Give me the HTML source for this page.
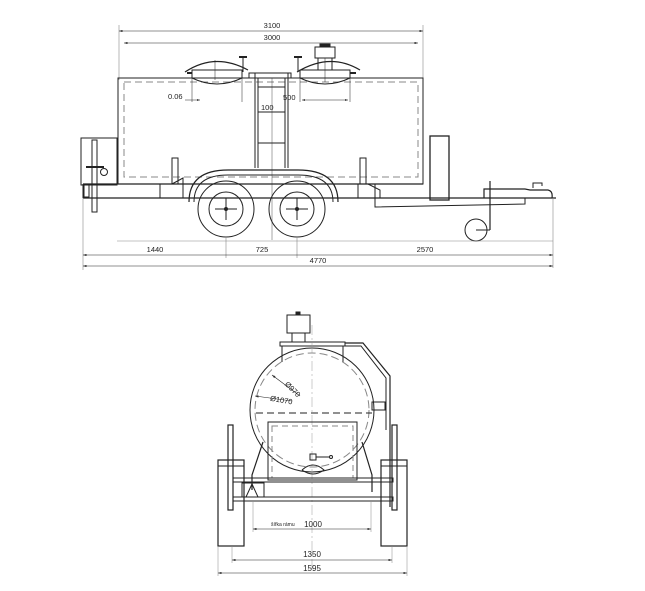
<!DOCTYPE html>
<html><head><meta charset="utf-8"><style>
html,body{margin:0;padding:0;background:#fff;}
svg{display:block;font-family:"Liberation Sans",sans-serif;}
</style></head><body>
<svg width="645" height="591" viewBox="0 0 645 591" xmlns="http://www.w3.org/2000/svg">
<defs>
<marker id="a" markerWidth="6" markerHeight="4" refX="6" refY="2" orient="auto-start-reverse"><path d="M0,0 L6,2 L0,4 z" fill="#333"/></marker>
</defs>
<g stroke="#222" fill="none" stroke-width="1">
<!-- top dims -->
<line x1="119" y1="25" x2="119" y2="80" stroke="#888" stroke-width="0.6"/>
<line x1="423" y1="25" x2="423" y2="80" stroke="#888" stroke-width="0.6"/>
<line x1="119" y1="31" x2="423" y2="31" stroke-width="0.6" marker-start="url(#a)" marker-end="url(#a)"/>
<line x1="124" y1="43" x2="418" y2="43" stroke-width="0.6" marker-start="url(#a)" marker-end="url(#a)"/>
<!-- tank -->
<rect x="118" y="78" width="305" height="106" stroke-width="1"/>
<path d="M124 82 H418 V177 H124 Z" stroke="#888" stroke-dasharray="7,4"/>
<!-- hatches -->
<path d="M185 72 Q215 52 248 70" stroke-width="1.2"/>
<rect x="192" y="70" width="50" height="8"/>
<path d="M192 78 Q217 90 242 78" />
<line x1="187" y1="73" x2="192" y2="73" stroke-width="2"/>
<line x1="243" y1="57" x2="243" y2="72"/><line x1="239" y1="57" x2="247" y2="57" stroke-width="2"/>
<line x1="215" y1="60" x2="215" y2="80" stroke-width="0.5"/>
<path d="M297 72 Q330 52 360 70" stroke-width="1.2"/>
<rect x="300" y="70" width="50" height="8"/>
<path d="M300 78 Q325 90 350 78"/>
<line x1="350" y1="73" x2="356" y2="73" stroke-width="2"/>
<line x1="298" y1="57" x2="298" y2="72"/><line x1="294" y1="57" x2="302" y2="57" stroke-width="2"/>
<rect x="315" y="47" width="20" height="11"/><rect x="320" y="44" width="10" height="3" fill="#222"/>
<rect x="318" y="58" width="14" height="12"/>
<line x1="325" y1="58" x2="325" y2="82" stroke-width="0.5"/>
<!-- internal dims -->
<line x1="192" y1="78" x2="192" y2="102" stroke-width="0.5"/><line x1="242" y1="78" x2="242" y2="102" stroke-width="0.5"/>
<line x1="300" y1="78" x2="300" y2="102" stroke-width="0.5"/><line x1="350" y1="78" x2="350" y2="102" stroke-width="0.5"/>
<line x1="185" y1="100" x2="200" y2="100" stroke-width="0.5" marker-end="url(#a)"/>
<line x1="302" y1="100" x2="348" y2="100" stroke-width="0.5" marker-start="url(#a)" marker-end="url(#a)"/>
<line x1="262" y1="112" x2="280" y2="112" stroke-width="0.5"/>
<!-- ladder -->
<rect x="249" y="73" width="42" height="5"/>
<line x1="255" y1="73" x2="255" y2="168"/><line x1="258" y1="78" x2="258" y2="168"/>
<line x1="285" y1="78" x2="285" y2="168"/><line x1="288" y1="73" x2="288" y2="168"/>
<line x1="258" y1="87" x2="285" y2="87"/><line x1="258" y1="112" x2="285" y2="112"/><line x1="258" y1="143" x2="285" y2="143"/>
<line x1="272" y1="78" x2="272" y2="240" stroke-width="0.4"/>
<!-- front box -->
<rect x="81" y="138" width="36" height="47"/>
<rect x="92" y="140" width="5" height="72"/>
<line x1="86" y1="167" x2="104" y2="167" stroke-width="2"/>
<circle cx="104" cy="172" r="3.5"/>
<rect x="84" y="185" width="5" height="12"/>
<!-- frame -->
<line x1="83" y1="184" x2="423" y2="184" stroke-width="1.3"/>
<line x1="83" y1="198" x2="556" y2="198" stroke-width="1.3"/>
<line x1="83" y1="184" x2="83" y2="198"/>
<path d="M160 198 V184 H178 M178 165 V184 M172 184 L183 178 V198" />
<path d="M172 184 V158 H178 V184" />
<path d="M358 198 V184 H372 M366 184 V158 H360 V184 M368 184 L380 190 V198"/>
<line x1="375" y1="184" x2="375" y2="198"/>
<path d="M375 198 V207 L525 204 V198"/>
<!-- fenders -->
<path d="M189 202 Q189 170 228 170 H298 Q338 170 338 202" stroke-width="1.2"/>
<path d="M194 202 Q194 175 228 175 H298 Q333 175 333 202"/>
<!-- wheels -->
<circle cx="226" cy="209" r="28"/><circle cx="226" cy="209" r="17"/>
<circle cx="297" cy="209" r="28"/><circle cx="297" cy="209" r="17"/>
<line x1="215" y1="209" x2="237" y2="209"/><line x1="226" y1="198" x2="226" y2="220"/>
<line x1="286" y1="209" x2="308" y2="209"/><line x1="297" y1="198" x2="297" y2="220"/>
<circle cx="226" cy="209" r="1.5" fill="#222"/><circle cx="297" cy="209" r="1.5" fill="#222"/>
<!-- mudguard -->
<rect x="430" y="136" width="19" height="64" stroke-width="1.3"/>
<!-- hitch -->
<path d="M484 198 V189 H525 L530 190 H548 Q553 191 552 198" stroke-width="1.2"/>
<path d="M533 188 V183 H542 V186"/>
<line x1="490" y1="181" x2="490" y2="230" stroke-width="1.2"/>
<circle cx="476" cy="230" r="11"/><line x1="476" y1="230" x2="490" y2="230"/>
<!-- bottom dims (top view) -->
<line x1="553" y1="198" x2="553" y2="268" stroke="#888" stroke-width="0.6"/>
<line x1="83" y1="198" x2="83" y2="270" stroke="#888" stroke-width="0.6"/>
<line x1="117" y1="241" x2="553" y2="241" stroke="#888" stroke-width="0.6"/>
<line x1="226" y1="238" x2="226" y2="258" stroke="#888" stroke-width="0.6"/>
<line x1="297" y1="238" x2="297" y2="258" stroke="#888" stroke-width="0.6"/>
<line x1="83" y1="255" x2="553" y2="255" stroke-width="0.6" marker-start="url(#a)" marker-end="url(#a)"/>
<line x1="83" y1="266" x2="553" y2="266" stroke-width="0.6" marker-start="url(#a)" marker-end="url(#a)"/>

<!-- ===== rear view ===== -->
<rect x="287" y="315" width="23" height="18"/><rect x="296" y="312" width="4" height="3" fill="#222"/>
<rect x="292" y="333" width="13" height="9"/>
<rect x="280" y="342" width="65" height="4"/>
<line x1="282" y1="346" x2="282" y2="362"/><line x1="343" y1="346" x2="343" y2="362"/>
<circle cx="312" cy="410" r="62"/>
<circle cx="312" cy="410" r="57" stroke="#888" stroke-dasharray="8,4"/>
<line x1="256" y1="413" x2="372" y2="413" stroke-dasharray="7,4"/>
<line x1="312" y1="325" x2="312" y2="570" stroke="#999" stroke-width="0.5" stroke-dasharray="10,3,2,3"/>
<line x1="272" y1="375" x2="300" y2="396" stroke-width="0.6" marker-start="url(#a)"/>
<line x1="255" y1="396" x2="292" y2="401" stroke-width="0.6" marker-start="url(#a)"/>
<!-- pipe -->
<path d="M345 343 H363 L390 376 V507" stroke-width="1.2"/>
<path d="M345 346 H361 L386 378 V430"/>
<rect x="372" y="402" width="13" height="8"/>
<!-- door -->
<rect x="268" y="422" width="89" height="58"/>
<rect x="272" y="426" width="81" height="52" stroke="#888" stroke-dasharray="6,4"/>
<rect x="310" y="454" width="6" height="6"/><line x1="316" y1="457" x2="330" y2="457"/><circle cx="331" cy="457" r="1.5"/>
<path d="M302 470 Q313 460 324 470 Q313 478 302 470"/>
<!-- legs -->
<path d="M263 442 L252 475 V490" stroke-width="1.2"/>
<path d="M362 442 L372 475 V492" stroke-width="1.2"/>
<!-- frame bars -->
<rect x="233" y="478" width="160" height="4"/>
<rect x="233" y="497" width="160" height="4"/>
<rect x="242" y="483" width="22" height="14"/>
<path d="M246 497 L252 484 L258 497"/>
<!-- posts and wheels -->
<rect x="228" y="425" width="5" height="85" stroke-width="1.2"/>
<rect x="392" y="425" width="5" height="85" stroke-width="1.2"/>
<rect x="218" y="460" width="26" height="86" stroke-width="1.2"/>
<rect x="381" y="460" width="26" height="86" stroke-width="1.2"/>
<line x1="218" y1="466" x2="244" y2="466"/><line x1="381" y1="466" x2="407" y2="466"/>
<!-- dims -->
<line x1="253" y1="502" x2="253" y2="532" stroke="#888" stroke-width="0.5"/>
<line x1="371" y1="502" x2="371" y2="532" stroke="#888" stroke-width="0.5"/>
<line x1="253" y1="529" x2="371" y2="529" stroke-width="0.6" marker-start="url(#a)" marker-end="url(#a)"/>
<line x1="232" y1="546" x2="232" y2="563" stroke="#888" stroke-width="0.5"/>
<line x1="392" y1="546" x2="392" y2="563" stroke="#888" stroke-width="0.5"/>
<line x1="232" y1="560" x2="392" y2="560" stroke-width="0.6" marker-start="url(#a)" marker-end="url(#a)"/>
<line x1="218" y1="546" x2="218" y2="576" stroke="#888" stroke-width="0.5"/>
<line x1="407" y1="546" x2="407" y2="576" stroke="#888" stroke-width="0.5"/>
<line x1="218" y1="573" x2="407" y2="573" stroke-width="0.6" marker-start="url(#a)" marker-end="url(#a)"/>
</g>
<g fill="#222" font-size="7.5">
<text x="272" y="28" text-anchor="middle">3100</text>
<text x="272" y="40" text-anchor="middle">3000</text>
<text x="168" y="99">0.06</text>
<text x="283" y="100">500</text>
<text x="261" y="110">100</text>
<text x="155" y="252" text-anchor="middle">1440</text>
<text x="262" y="252" text-anchor="middle">725</text>
<text x="425" y="252" text-anchor="middle">2570</text>
<text x="318" y="263" text-anchor="middle">4770</text>
<text x="285" y="389" transform="rotate(45 290 386)">Ø970</text>
<text x="270" y="402" transform="rotate(10 278 400)">Ø1070</text>
<text x="271" y="526" font-size="5">šířka rámu</text>
<text x="313" y="527" text-anchor="middle" font-size="8">1000</text>
<text x="312" y="557" text-anchor="middle" font-size="8">1350</text>
<text x="312" y="571" text-anchor="middle" font-size="8">1595</text>
</g>
</svg>
</body></html>
